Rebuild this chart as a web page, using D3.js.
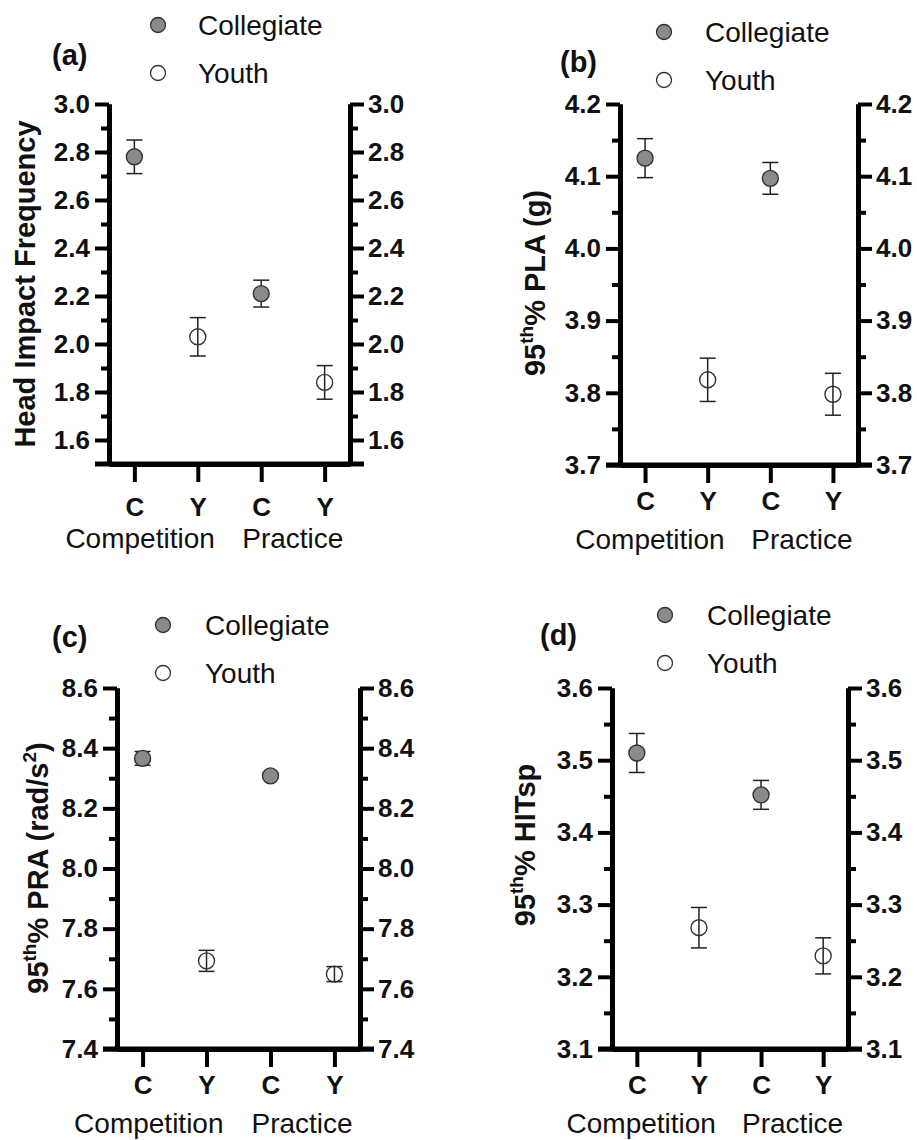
<!DOCTYPE html>
<html>
<head>
<meta charset="utf-8">
<script src="https://cdn.jsdelivr.net/npm/d3@7"></script>
<style>
  body { margin: 0; background: #fff; }
  text { font-family: 'Liberation Sans', Arial, Helvetica, sans-serif; fill: #111; }
</style>
</head>
<body>
<script>
// size of the whole figure
var width = 917;
var height = 1140;

// categories on the x axis
var categories = ["C", "Y", "C", "Y"];
var catSeries = ["Collegiate", "Youth", "Collegiate", "Youth"];
var groups = ["Competition", "Practice"];
var series = ["Collegiate", "Youth"];

// (a) head impact frequency
var freqMean = [2.78, 2.03, 2.21, 1.84];
var freqErr = [0.07, 0.08, 0.056, 0.07];
var freqTicks = [1.6, 1.8, 2.0, 2.2, 2.4, 2.6, 2.8, 3.0];
var freqDomain = [1.5, 3.0];

// (b) 95th% PLA
var plaMean = [4.125, 3.818, 4.097, 3.798];
var plaErr = [0.027, 0.03, 0.022, 0.029];
var plaTicks = [3.7, 3.8, 3.9, 4.0, 4.1, 4.2];
var plaDomain = [3.7, 4.2];

// (c) 95th% PRA
var praMean = [8.366, 7.693, 8.308, 7.649];
var praErr = [0.023, 0.035, 0.008, 0.025];
var praTicks = [7.4, 7.6, 7.8, 8.0, 8.2, 8.4, 8.6];
var praDomain = [7.4, 8.6];

// (d) 95th% HITsp
var hitMean = [3.51, 3.268, 3.452, 3.229];
var hitErr = [0.027, 0.028, 0.02, 0.025];
var hitTicks = [3.1, 3.2, 3.3, 3.4, 3.5, 3.6];
var hitDomain = [3.1, 3.6];

var fills = { "Collegiate": "#8a8a8a", "Youth": "none" };

var svg = d3.select("body")
  .append("svg")
  .attr("width", width)
  .attr("height", height);

var panels = [
  { tag: "(a)", mean: freqMean, err: freqErr, ticks: freqTicks, domain: freqDomain,
    title: [["Head Impact Frequency"]],
    left: 109, right: 350, top: 104, bottom: 464, titleX: 35, titleY: 284, catPad: 16,
    tagX: 52, tagY: 55, legX: 158, legY: 25, legTextX: 198 },
  { tag: "(b)", mean: plaMean, err: plaErr, ticks: plaTicks, domain: plaDomain,
    title: [["95"], ["th", "sup"], ["% PLA (g)"]],
    left: 620, right: 858, top: 104, bottom: 465, titleX: 545, titleY: 283, catPad: 9,
    tagX: 560, tagY: 62, legX: 664, legY: 32, legTextX: 705 },
  { tag: "(c)", mean: praMean, err: praErr, ticks: praTicks, domain: praDomain,
    title: [["95"], ["th", "sup"], ["% PRA (rad/s"], ["2", "sup"], [")"]],
    left: 117, right: 360, top: 688, bottom: 1049, titleX: 48, titleY: 868, catPad: 9,
    tagX: 52, tagY: 637, legX: 163, legY: 625, legTextX: 205 },
  { tag: "(d)", mean: hitMean, err: hitErr, ticks: hitTicks, domain: hitDomain,
    title: [["95"], ["th", "sup"], ["% HITsp"]],
    left: 612, right: 848, top: 688, bottom: 1049, titleX: 535, titleY: 845, catPad: 9,
    tagX: 540, tagY: 635, legX: 665, legY: 615, legTextX: 707 }
];

panels.forEach(drawPanel);

function drawPanel(p) {
  var g = svg.append("g");

  var y = d3.scaleLinear().domain(p.domain).range([p.bottom, p.top]);
  var x = d3.scalePoint()
    .domain(d3.range(categories.length))
    .range([p.left, p.right])
    .padding(0.4);

  var minor = d3.pairs(p.ticks, (a, b) => (a + b) / 2);
  var fmt = d3.format(".1f");

  // left axis
  g.append("g").attr("transform", "translate(" + p.left + ",0)")
    .call(d3.axisLeft(y).tickValues(p.ticks).tickSize(14).tickSizeOuter(0).tickPadding(5).tickFormat(fmt));
  g.append("g").attr("transform", "translate(" + p.left + ",0)")
    .call(d3.axisLeft(y).tickValues(minor).tickSize(8).tickSizeOuter(0).tickFormat(""));

  // right axis
  g.append("g").attr("transform", "translate(" + p.right + ",0)")
    .call(d3.axisRight(y).tickValues(p.ticks).tickSize(14).tickSizeOuter(0).tickPadding(4).tickFormat(fmt));
  g.append("g").attr("transform", "translate(" + p.right + ",0)")
    .call(d3.axisRight(y).tickValues(minor).tickSize(8).tickSizeOuter(0).tickFormat(""));

  // bottom axis
  g.append("g").attr("transform", "translate(0," + p.bottom + ")")
    .call(d3.axisBottom(x).tickSize(18).tickSizeOuter(0).tickPadding(p.catPad).tickFormat(i => categories[i]));

  g.append("line")
    .attr("x1", p.left - 14).attr("x2", p.right + 14)
    .attr("y1", p.bottom).attr("y2", p.bottom)
    .attr("stroke", "#000").attr("stroke-width", 5);

  g.selectAll(".domain").attr("stroke", "#000").attr("stroke-width", 5);
  g.selectAll(".tick line").attr("stroke", "#000").attr("stroke-width", 4);
  g.selectAll(".tick text")
    .attr("font-size", 26).attr("font-weight", "bold").attr("fill", "#111")
    .style("font-family", "'Liberation Sans', Arial, sans-serif");

  // group labels under the categories
  g.append("text")
    .attr("x", x(1) + 17).attr("y", p.bottom + 84)
    .attr("text-anchor", "end").attr("font-size", 28)
    .text(groups[0]);
  g.append("text")
    .attr("x", x(2) - 19).attr("y", p.bottom + 84)
    .attr("text-anchor", "start").attr("font-size", 28)
    .text(groups[1]);

  // y axis title
  var t = g.append("text")
    .attr("transform", "translate(" + p.titleX + "," + p.titleY + ") rotate(-90)")
    .attr("text-anchor", "middle")
    .attr("font-size", 29).attr("font-weight", "bold");
  var raised = false;
  p.title.forEach(part => {
    var s = t.append("tspan").text(part[0]);
    if (part[1] == "sup") {
      s.attr("font-size", 19).attr("dy", -12);
      raised = true;
    } else if (raised) {
      s.attr("dy", 12);
      raised = false;
    }
  });

  // error bars
  var bars = g.append("g").selectAll("g")
    .data(p.mean.map((m, i) => ({ i: i, m: m, e: p.err[i] })))
    .join("g");
  bars.append("line")
    .attr("x1", d => x(d.i)).attr("x2", d => x(d.i))
    .attr("y1", d => y(d.m - d.e)).attr("y2", d => y(d.m + d.e))
    .attr("stroke", "#222").attr("stroke-width", 1.5);
  bars.append("line")
    .attr("x1", d => x(d.i) - 8).attr("x2", d => x(d.i) + 8)
    .attr("y1", d => y(d.m + d.e)).attr("y2", d => y(d.m + d.e))
    .attr("stroke", "#222").attr("stroke-width", 1.5);
  bars.append("line")
    .attr("x1", d => x(d.i) - 8).attr("x2", d => x(d.i) + 8)
    .attr("y1", d => y(d.m - d.e)).attr("y2", d => y(d.m - d.e))
    .attr("stroke", "#222").attr("stroke-width", 1.5);
  bars.append("circle")
    .attr("cx", d => x(d.i)).attr("cy", d => y(d.m))
    .attr("r", 8)
    .attr("fill", d => fills[catSeries[d.i]])
    .attr("stroke", "#333").attr("stroke-width", 1.4);

  // panel tag
  g.append("text")
    .attr("x", p.tagX).attr("y", p.tagY).attr("dy", "0.35em")
    .attr("font-size", 29).attr("font-weight", "bold")
    .text(p.tag);

  // legend
  series.forEach((s, k) => {
    g.append("circle")
      .attr("cx", p.legX).attr("cy", p.legY + k * 48)
      .attr("r", 7.5)
      .attr("fill", s == "Youth" ? "#fff" : fills[s])
      .attr("stroke", "#333").attr("stroke-width", 1.3);
    g.append("text")
      .attr("x", p.legTextX).attr("y", p.legY + k * 48).attr("dy", "0.35em")
      .attr("font-size", 28)
      .text(s);
  });
}
</script>
</body>
</html>
